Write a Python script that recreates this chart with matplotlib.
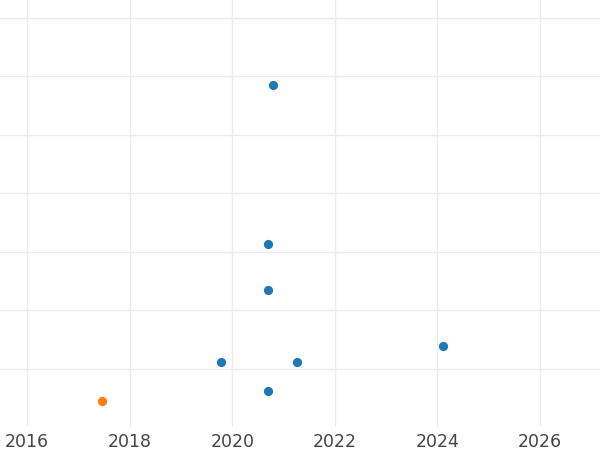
import matplotlib
matplotlib.use('Agg')
import matplotlib.pyplot as plt

# Data (x = year, y in grid units)
blue_x = [2020.79, 2020.69, 2020.69, 2024.10, 2019.77, 2021.26, 2020.69]
blue_y = [5.85, 3.13, 2.34, 1.38, 1.11, 1.11, 0.62]
orange_x = [2017.46]
orange_y = [0.44]
x_ticks = [2016, 2018, 2020, 2022, 2024, 2026]

fig = plt.figure(figsize=(6, 4.5), dpi=100)
ax = fig.add_axes([0, 0.051, 1, 0.949])

ax.scatter(blue_x, blue_y, s=44, color='#1f77b4', zorder=3, linewidths=0)
ax.scatter(orange_x, orange_y, s=44, color='#ff7f0e', zorder=3, linewidths=0)

ax.set_xlim(2015.47, 2027.17)
ax.set_ylim(0, 7.3)
ax.set_xticks(x_ticks)
ax.set_xticklabels([str(t) for t in x_ticks])
ax.set_yticks(range(1, 8))
ax.set_yticklabels([])

ax.grid(True, color='#ebebeb', linewidth=1.0)
ax.set_axisbelow(True)
for s in ax.spines.values():
    s.set_visible(False)
ax.tick_params(axis='both', length=0)
ax.tick_params(axis='x', labelsize=12.5, labelcolor='#444444', pad=4)

fig.savefig('out.png', dpi=100)
